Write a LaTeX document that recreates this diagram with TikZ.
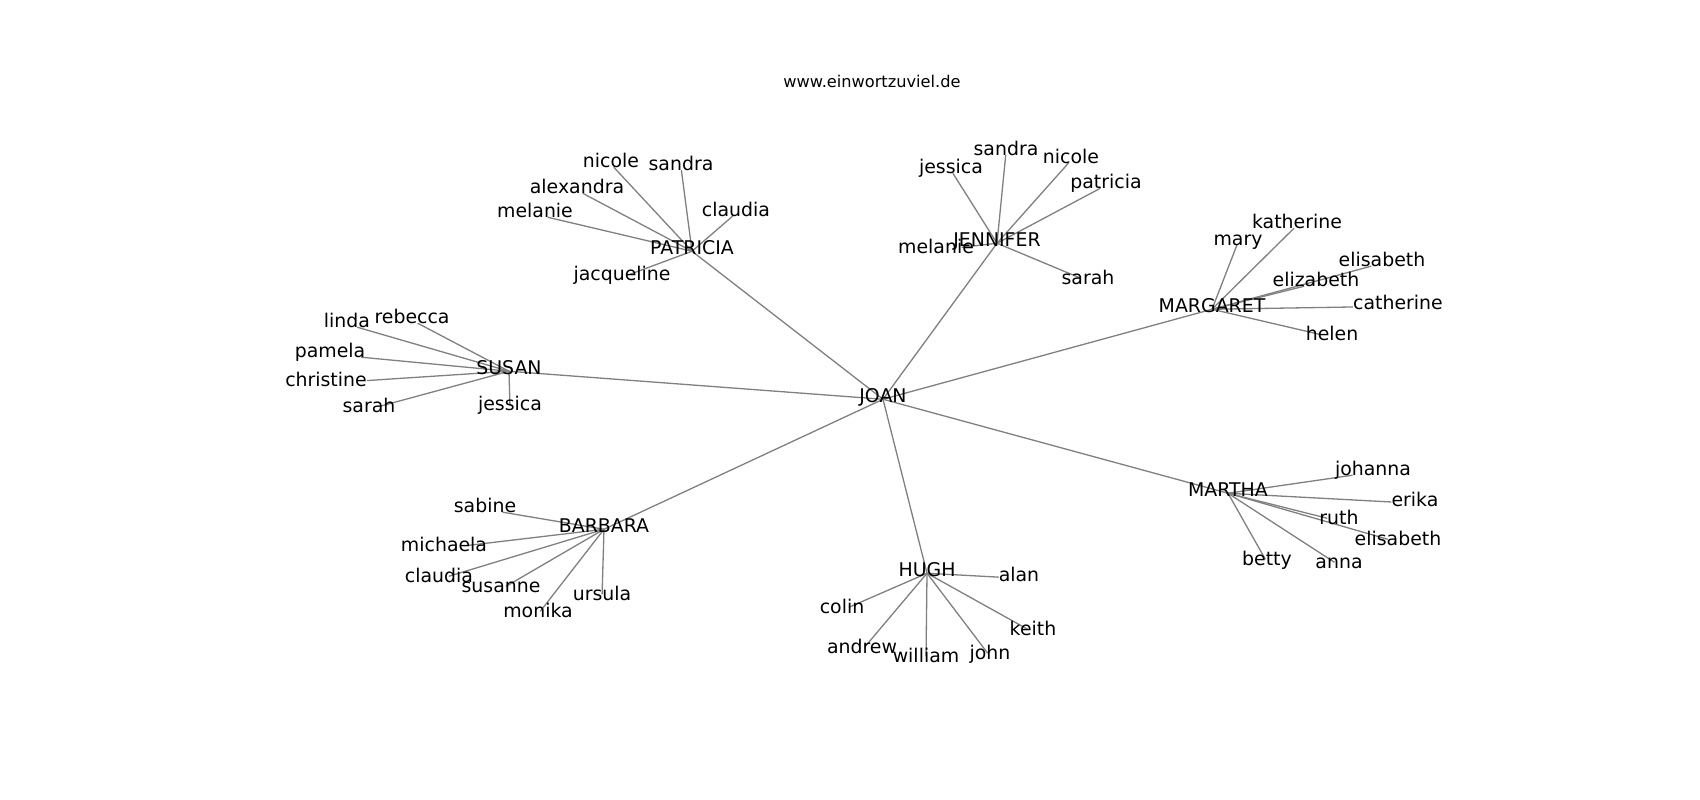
\documentclass[tikz,border=0pt]{standalone}
\usepackage{fontspec}
\setmainfont{DejaVu Sans}
\usetikzlibrary{backgrounds}
\begin{document}
\begin{tikzpicture}[x=1pt,y=-1pt,
  lbl/.style={font=\fontsize{18.9}{22}\selectfont, inner sep=0pt, text height=0.55em, text depth=0pt, anchor=base},
  edge/.style={draw=black!50, line width=1.3pt},
  ttl/.style={font=\fontsize{16.2}{19}\selectfont, inner sep=0pt, anchor=base}]
\useasboundingbox (0,0) rectangle (1700,800);
\node[ttl] (title) at (872,88) {www.einwortzuviel.de};
% hubs
\node[lbl] (JO) at (883,402) {JOAN};
\node[lbl] (P) at (692,254) {PATRICIA};
\node[lbl] (J) at (997,246) {JENNIFER};
\node[lbl] (M) at (1212,312) {MARGARET};
\node[lbl] (S) at (509,374) {SUSAN};
\node[lbl] (MA) at (1228,496) {MARTHA};
\node[lbl] (B) at (604,532) {BARBARA};
\node[lbl] (H) at (927,576) {HUGH};
% PATRICIA
\node[lbl] (p1) at (611,167) {nicole};
\node[lbl] (p2) at (681,170) {sandra};
\node[lbl] (p3) at (577,193) {alexandra};
\node[lbl] (p4) at (535,217) {melanie};
\node[lbl] (p5) at (736,216) {claudia};
\node[lbl] (p6) at (622,280) {jacqueline};
% JENNIFER
\node[lbl] (j1) at (951,173) {jessica};
\node[lbl] (j2) at (1006,155) {sandra};
\node[lbl] (j3) at (1071,163) {nicole};
\node[lbl] (j4) at (1106,188) {patricia};
\node[lbl] (j5) at (936,253) {melanie};
\node[lbl] (j6) at (1088,284) {sarah};
% MARGARET
\node[lbl] (m1) at (1238,245) {mary};
\node[lbl] (m2) at (1297,228) {katherine};
\node[lbl] (m3) at (1382,266) {elisabeth};
\node[lbl] (m4) at (1316,286) {elizabeth};
\node[lbl] (m5) at (1398,309) {catherine};
\node[lbl] (m6) at (1332,340) {helen};
% SUSAN
\node[lbl] (s1) at (347,327) {linda};
\node[lbl] (s2) at (412,323) {rebecca};
\node[lbl] (s3) at (330,357) {pamela};
\node[lbl] (s4) at (326,386) {christine};
\node[lbl] (s5) at (369,412) {sarah};
\node[lbl] (s6) at (510,410) {jessica};
% MARTHA
\node[lbl] (a1) at (1373,475) {johanna};
\node[lbl] (a2) at (1415,506) {erika};
\node[lbl] (a3) at (1339,524) {ruth};
\node[lbl] (a4) at (1398,545) {elisabeth};
\node[lbl] (a5) at (1267,565) {betty};
\node[lbl] (a6) at (1339,568) {anna};
% BARBARA
\node[lbl] (b1) at (485,512) {sabine};
\node[lbl] (b2) at (444,551) {michaela};
\node[lbl] (b3) at (439,582) {claudia};
\node[lbl] (b4) at (501,592) {susanne};
\node[lbl] (b5) at (602,600) {ursula};
\node[lbl] (b6) at (538,617) {monika};
% HUGH
\node[lbl] (h1) at (1019,581) {alan};
\node[lbl] (h2) at (842,613) {colin};
\node[lbl] (h3) at (1033,635) {keith};
\node[lbl] (h4) at (862,653) {andrew};
\node[lbl] (h5) at (926,662) {william};
\node[lbl] (h6) at (990,659) {john};
\begin{pgfonlayer}{background}
\fill[white] (0,0) rectangle (1700,800);
\foreach \h in {P,J,M,S,MA,B,H}
  \draw[edge] (JO.center) -- (\h.center);
\foreach \c in {p1,p2,p3,p4,p5,p6} \draw[edge] (P.center) -- (\c);
\foreach \c in {j1,j2,j3,j4,j5,j6} \draw[edge] (J.center) -- (\c);
\foreach \c in {m1,m2,m3,m4,m5,m6} \draw[edge] (M.center) -- (\c);
\foreach \c in {s1,s2,s3,s4,s5,s6} \draw[edge] (S.center) -- (\c);
\foreach \c in {a1,a2,a3,a4,a5,a6} \draw[edge] (MA.center) -- (\c);
\foreach \c in {b1,b2,b3,b4,b5,b6} \draw[edge] (B.center) -- (\c);
\foreach \c in {h1,h2,h3,h4,h5,h6} \draw[edge] (H.center) -- (\c);
\end{pgfonlayer}
\end{tikzpicture}
\end{document}
